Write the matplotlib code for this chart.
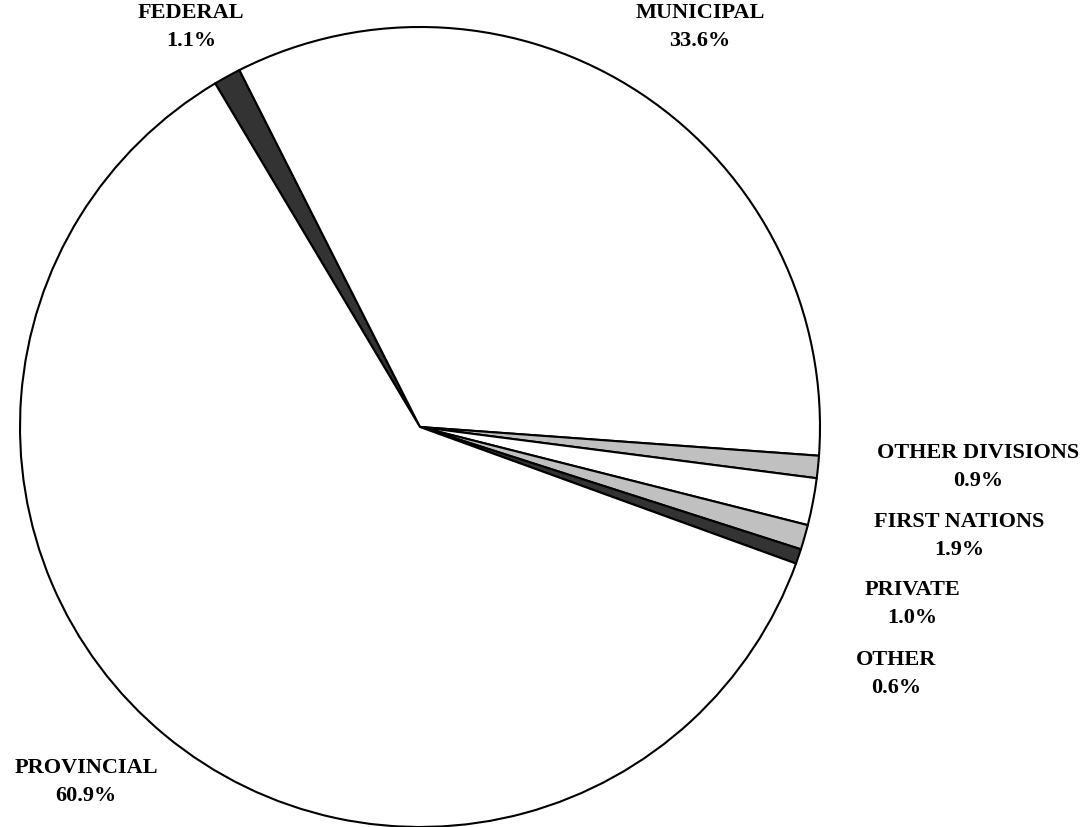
import matplotlib as mpl
mpl.use('Agg')
import matplotlib.pyplot as plt

# shares, clockwise starting from the Federal slice
labels = ['FEDERAL', 'MUNICIPAL', 'OTHER DIVISIONS', 'FIRST NATIONS',
          'PRIVATE', 'OTHER', 'PROVINCIAL']
shares = [1.1, 33.6, 0.9, 1.9, 1.0, 0.6, 60.9]
colors = ['#333333', 'white', '#c0c0c0', 'white', '#c0c0c0', '#333333', 'white']

# label centres in pixels (x, y from top) of the 1086x827 picture
label_px = [(191, 27), (700, 27), (978, 467), (959, 536),
            (912, 604), (896, 674), (86, 782)]

cx, cy, R = 420, 427, 400
W, H = 1086, 827

fig = plt.figure(figsize=(W / 100, H / 100), dpi=100)
ax = fig.add_axes([0, 0, 1, 1])
ax.pie(shares, colors=colors, startangle=120.8, counterclock=False,
       radius=1.0, center=(0, 0),
       wedgeprops=dict(edgecolor='black', linewidth=1.5))
ax.set_xlim(-cx / R, (W - cx) / R)
ax.set_ylim(-(H - cy) / R, cy / R)
ax.set_aspect('auto')
ax.axis('off')

for lab, val, (px, py) in zip(labels, shares, label_px):
	ax.text((px - cx) / R, (cy - py) / R, lab + '\n' + '%.1f%%' % val,
	        ha='center', va='center', family='Liberation Serif',
	        fontweight='bold', fontsize=16, linespacing=1.5)

fig.savefig('out.png', dpi=100)
